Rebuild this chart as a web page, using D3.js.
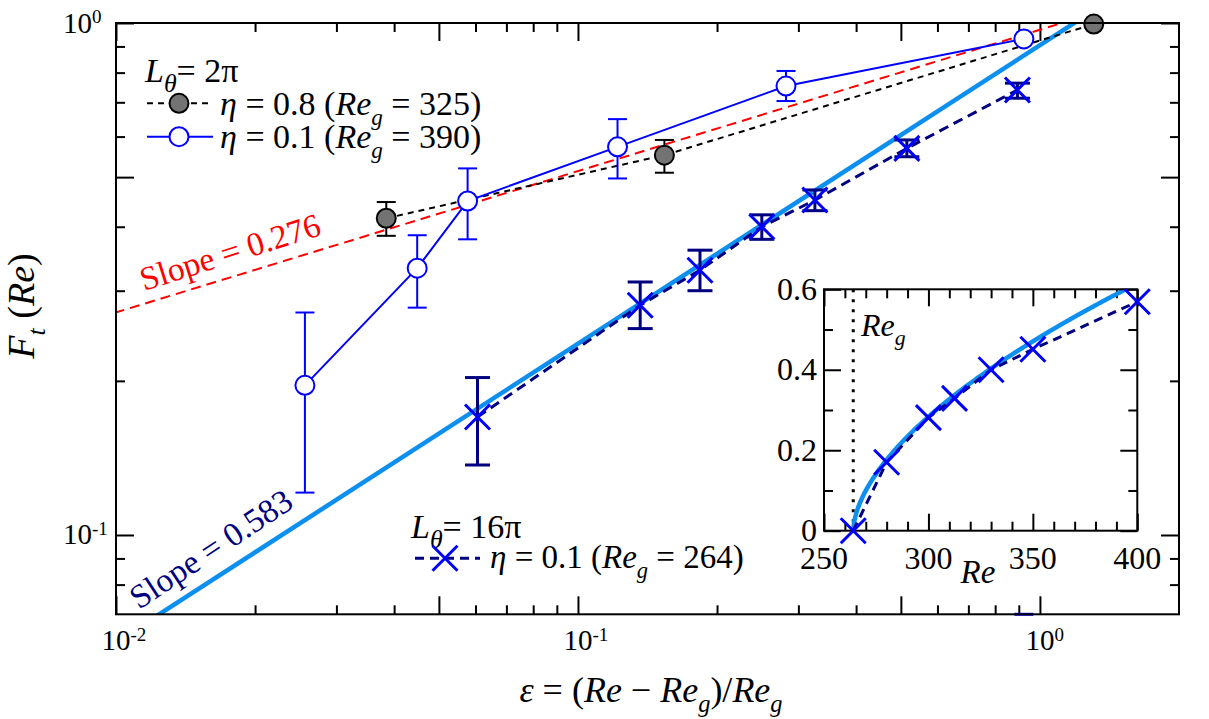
<!DOCTYPE html>
<html><head><meta charset="utf-8">
<script src="https://cdn.jsdelivr.net/npm/d3@7"></script>
<style>
body{margin:0;background:#fff}
svg{display:block}
</style>
</head><body>
<svg id="c" width="1209" height="719" font-family="'Liberation Serif', Tinos, 'Times New Roman', 'DejaVu Serif', serif"></svg>
<script>
// ---------------- data ----------------
// L_theta = 2pi, eta = 0.8
const reg08 = 325;
const re08  = [337.5, 375, 750];
const f08   = [0.4155, 0.552, 0.995];
const f08Lo = [0.384, 0.510, null];
const f08Hi = [0.447, 0.591, null];
// L_theta = 2pi, eta = 0.1
const reg01 = 390;
const re01  = [400, 407.5, 412.5, 437.5, 500, 750];
const f01   = [0.196, 0.332, 0.449, 0.573, 0.753, 0.931];
const f01Lo = [0.121, 0.278, 0.378, 0.497, 0.704, 0.05];
const f01Hi = [0.272, 0.385, 0.520, 0.649, 0.806, null];
// L_theta = 16pi, eta = 0.1
const reg16 = 264;
const re16  = [264, 280, 300, 312.5, 330, 350, 400, 500];
const f16   = [0, 0.170, 0.281, 0.329, 0.400, 0.451, 0.569, 0.740];
const f16Lo = [null, 0.137, 0.253, 0.300, 0.378, 0.430, 0.548, 0.713];
const f16Hi = [null, 0.203, 0.312, 0.360, 0.422, 0.472, 0.591, 0.763];
// power-law fits
const fitSteep = {slope: 0.583, pref: 0.905};
const fitShallow = {slope: 0.276, pref: 0.970};
// ticks
const xMajor = [0.01, 0.05, 0.1, 0.5, 1];
const xMinor = [0.02,0.03,0.04,0.06,0.07,0.08,0.09,0.2,0.3,0.4,0.6,0.7,0.8,0.9];
const xTickLabels = [[0.01,"-2"],[0.1,"-1"],[1,"0"]];
const yMajor = [0.1, 0.5, 1];
const yMinor = [0.08,0.09,0.2,0.3,0.4,0.6,0.7,0.8,0.9];
const yTickLabels = [[0.1,"-1"],[1,"0"]];
const inXMajor = [250,300,350,400];
const inXMinor = [260,270,280,290,310,320,330,340,360,370,380,390];
const inYMajor = [0,0.2,0.4,0.6];
const inYMinor = [0.1,0.3,0.5];
const inYLabels = ["0","0.2","0.4","0.6"];

// ---------------- setup ----------------
const svg = d3.select("#c");
const L = 116, R = 1179, T = 23, B = 614.3;
const x = d3.scaleLog().domain([0.01, 2]).range([L, R]);
const y = d3.scaleLog().domain([0.07, 1]).range([B, T]);
const eps = (re, rg) => (re - rg) / rg;

const BLUE = "#0000ff", NAVY = "#000080", LBLUE = "#0d8ff0", RED = "#ff0000", GRAY = "#737373";

function rich(sel, parts, fs, subRatio) {
  const sr = subRatio || 0.68;
  let shift = 0;
  parts.forEach(p => {
    const ts = sel.append("tspan").text(p.t);
    let target = 0, size = fs;
    if (p.sub) { target = fs * 0.28; size = fs * sr; }
    if (p.sup) { target = -fs * 0.42; size = fs * 0.65; }
    ts.attr("dy", target - shift).attr("font-size", size);
    shift = target;
    if (p.i) ts.attr("font-style", "italic");
  });
  return sel;
}

svg.append("defs").append("clipPath").attr("id","clipMain")
  .append("rect").attr("x",L).attr("y",T).attr("width",R-L).attr("height",B-T);

// ---------------- main axes (inward ticks) ----------------
function styleAxis(g){ g.select(".domain").remove(); g.selectAll("line").attr("stroke","#000").attr("stroke-width",2); g.selectAll("text").remove(); }
[[d3.axisBottom, B],[d3.axisTop, T]].forEach(([f, ty]) => {
  svg.append("g").attr("transform",`translate(0,${ty})`).call(f(x).tickValues(xMajor).tickSize(-18).tickFormat("")).call(styleAxis);
  svg.append("g").attr("transform",`translate(0,${ty})`).call(f(x).tickValues(xMinor).tickSize(-9).tickFormat("")).call(styleAxis);
});
[[d3.axisLeft, L],[d3.axisRight, R]].forEach(([f, tx]) => {
  svg.append("g").attr("transform",`translate(${tx},0)`).call(f(y).tickValues(yMajor).tickSize(-18).tickFormat("")).call(styleAxis);
  svg.append("g").attr("transform",`translate(${tx},0)`).call(f(y).tickValues(yMinor).tickSize(-9).tickFormat("")).call(styleAxis);
});

// tick labels
xTickLabels.forEach(([v, e]) => {
  const t = svg.append("text").attr("x", x(v)).attr("y", 650).attr("text-anchor","middle").attr("font-size",29).text("10");
  const w = t.node().getComputedTextLength();
  svg.append("text").attr("x", x(v) + w/2).attr("y", 641).attr("font-size",19).text(e);
});
yTickLabels.forEach(([v, e]) => {
  svg.append("text").attr("x", 92).attr("y", y(v) + 9.5).attr("text-anchor","end").attr("font-size",29).text("10");
  svg.append("text").attr("x", 92).attr("y", y(v)).attr("font-size",19).text(e);
});

// axis titles
rich(svg.append("text").attr("x", 651).attr("y", 702).attr("text-anchor","middle"),
  [{t:"\u03B5",i:true},{t:" = ("},{t:"Re",i:true},{t:" \u2212 "},{t:"Re",i:true},{t:"g",i:true,sub:true},{t:")/"},{t:"Re",i:true},{t:"g",i:true,sub:true}], 36);
rich(svg.append("text").attr("transform","translate(34,306) rotate(-90)").attr("text-anchor","middle"),
  [{t:"F",i:true},{t:"t",i:true,sub:true},{t:" ("},{t:"Re",i:true},{t:")"}], 38);

// ---------------- fit lines ----------------
const plot = svg.append("g").attr("clip-path","url(#clipMain)");
const lineLog = d3.line().x(d => x(d[0])).y(d => y(d[1]));
const fitPts = f => [0.005, 3].map(e => [e, f.pref * Math.pow(e, f.slope)]);
plot.append("path").attr("d", lineLog(fitPts(fitShallow))).attr("fill","none").attr("stroke",RED).attr("stroke-width",2).attr("stroke-dasharray","10,6");
plot.append("path").attr("d", lineLog(fitPts(fitSteep))).attr("fill","none").attr("stroke",LBLUE).attr("stroke-width",4.5);

// ---------------- series ----------------
const s08 = re08.map((r,i) => ({e: eps(r,reg08), f: f08[i], lo: f08Lo[i], hi: f08Hi[i]}));
const s01 = re01.map((r,i) => ({e: eps(r,reg01), f: f01[i], lo: f01Lo[i], hi: f01Hi[i]}));
const s16 = re16.map((r,i) => ({e: eps(r,reg16), f: f16[i], lo: f16Lo[i], hi: f16Hi[i]})).filter(d => d.f > 0);
const ln = d3.line().x(d => x(d.e)).y(d => y(d.f));

plot.append("path").attr("d", ln(s08)).attr("fill","none").attr("stroke","#000").attr("stroke-width",2).attr("stroke-dasharray","6,5");
plot.append("path").attr("d", ln(s01)).attr("fill","none").attr("stroke",BLUE).attr("stroke-width",2);
plot.append("path").attr("d", ln(s16)).attr("fill","none").attr("stroke",NAVY).attr("stroke-width",3).attr("stroke-dasharray","10,6");

function errBars(g, data, xs, ys, color, sw, cap, ymin) {
  data.forEach(d => {
    if (d.lo == null && d.hi == null) return;
    const cx = xs(d.e);
    if (d.lo != null && d.lo < ymin) {
      g.append("line").attr("x1",cx-cap/2).attr("x2",cx+cap/2).attr("y1",ys(ymin)).attr("y2",ys(ymin)).attr("stroke",color).attr("stroke-width",sw+1);
      return;
    }
    const y1 = ys(d.hi), y2 = ys(d.lo);
    g.append("line").attr("x1",cx).attr("x2",cx).attr("y1",y1).attr("y2",y2).attr("stroke",color).attr("stroke-width",sw);
    [y1,y2].forEach(yy => g.append("line").attr("x1",cx-cap/2).attr("x2",cx+cap/2).attr("y1",yy).attr("y2",yy).attr("stroke",color).attr("stroke-width",sw));
  });
}
const marks = svg.append("g");
errBars(marks, s08, x, y, "#000", 2, 19, 0.07);
errBars(marks, s01, x, y, BLUE, 2, 19, 0.07);
errBars(marks, s16, x, y, NAVY, 3, 25, 0.07);

function cross(g, cx, cy, h) {
  g.append("path").attr("d",`M${cx-h},${cy-h}L${cx+h},${cy+h}M${cx-h},${cy+h}L${cx+h},${cy-h}`)
    .attr("stroke",BLUE).attr("stroke-width",3).attr("fill","none");
}
s08.forEach(d => marks.append("circle").attr("cx",x(d.e)).attr("cy",y(d.f)).attr("r",9.5).attr("fill",GRAY).attr("stroke","#000").attr("stroke-width",2));
s01.forEach(d => marks.append("circle").attr("cx",x(d.e)).attr("cy",y(d.f)).attr("r",9.5).attr("fill","#fff").attr("stroke",BLUE).attr("stroke-width",2));
s16.forEach(d => cross(marks, x(d.e), y(d.f), 12.5));

// frame
svg.append("rect").attr("x",L).attr("y",T).attr("width",R-L).attr("height",B-T).attr("fill","none").attr("stroke","#000").attr("stroke-width",2);

// ---------------- slope labels ----------------
svg.append("text").attr("transform","translate(144,291) rotate(-17.5)").attr("font-size",33.5).attr("fill",RED).text("Slope = 0.276");
svg.append("text").attr("transform","translate(139,610) rotate(-33.5)").attr("font-size",33.5).attr("fill",NAVY).text("Slope = 0.583");

// ---------------- legends ----------------
const lg = svg.append("g");
rich(lg.append("text").attr("x",145).attr("y",82), [{t:"L",i:true},{t:"\u03B8",i:true,sub:true},{t:"= 2\u03C0"}], 34, 0.76);
lg.append("line").attr("x1",147).attr("x2",213).attr("y1",103.3).attr("y2",103.3).attr("stroke","#000").attr("stroke-width",2).attr("stroke-dasharray","6,5");
lg.append("circle").attr("cx",179).attr("cy",103.3).attr("r",9.5).attr("fill",GRAY).attr("stroke","#000").attr("stroke-width",2);
rich(lg.append("text").attr("x",220).attr("y",115), [{t:"\u03B7",i:true},{t:" = 0.8 ("},{t:"Re",i:true},{t:"g",i:true,sub:true},{t:" = 325)"}], 34);
lg.append("line").attr("x1",147).attr("x2",213).attr("y1",136.7).attr("y2",136.7).attr("stroke",BLUE).attr("stroke-width",2);
lg.append("circle").attr("cx",179).attr("cy",136.7).attr("r",9.5).attr("fill","#fff").attr("stroke",BLUE).attr("stroke-width",2);
rich(lg.append("text").attr("x",220).attr("y",148), [{t:"\u03B7",i:true},{t:" = 0.1 ("},{t:"Re",i:true},{t:"g",i:true,sub:true},{t:" = 390)"}], 34);

rich(lg.append("text").attr("x",411).attr("y",538), [{t:"L",i:true},{t:"\u03B8",i:true,sub:true},{t:"= 16\u03C0"}], 34, 0.76);
lg.append("line").attr("x1",415).attr("x2",480).attr("y1",558.3).attr("y2",558.3).attr("stroke",NAVY).attr("stroke-width",3).attr("stroke-dasharray","9,6");
cross(lg, 445, 558.3, 12.5);
rich(lg.append("text").attr("x",490).attr("y",568.3), [{t:"\u03B7",i:true},{t:" = 0.1 ("},{t:"Re",i:true},{t:"g",i:true,sub:true},{t:" = 264)"}], 33);

// ---------------- inset ----------------
const iL = 824, iR = 1137.3, iT = 289.3, iB = 530.7;
const xi = d3.scaleLinear().domain([250,400]).range([iL,iR]);
const yi = d3.scaleLinear().domain([0,0.6]).range([iB,iT]);
const ins = svg.append("g");
ins.append("rect").attr("x",iL).attr("y",iT).attr("width",iR-iL).attr("height",iB-iT).attr("fill","#fff");
svg.select("defs").append("clipPath").attr("id","clipIn").append("rect").attr("x",iL).attr("y",iT).attr("width",iR-iL).attr("height",iB-iT);
[[d3.axisBottom, iB],[d3.axisTop, iT]].forEach(([f, ty]) => {
  ins.append("g").attr("transform",`translate(0,${ty})`).call(f(xi).tickValues(inXMajor).tickSize(-17).tickFormat("")).call(styleAxis);
  ins.append("g").attr("transform",`translate(0,${ty})`).call(f(xi).tickValues(inXMinor).tickSize(-9).tickFormat("")).call(styleAxis);
});
[[d3.axisLeft, iL],[d3.axisRight, iR]].forEach(([f, tx]) => {
  ins.append("g").attr("transform",`translate(${tx},0)`).call(f(yi).tickValues(inYMajor).tickSize(-17).tickFormat("")).call(styleAxis);
  ins.append("g").attr("transform",`translate(${tx},0)`).call(f(yi).tickValues(inYMinor).tickSize(-9).tickFormat("")).call(styleAxis);
});
inYMajor.forEach((v,i) => ins.append("text").attr("x",817).attr("y",yi(v)+10.5).attr("text-anchor","end").attr("font-size",32).text(inYLabels[i]));
inXMajor.forEach(v => ins.append("text").attr("x",xi(v)).attr("y",569).attr("text-anchor","middle").attr("font-size",32).text(v));
ins.append("text").attr("x",978).attr("y",583).attr("text-anchor","middle").attr("font-size",33).attr("font-style","italic").text("Re");

const inPlot = ins.append("g").attr("clip-path","url(#clipIn)");
inPlot.append("line").attr("x1",xi(reg16)).attr("x2",xi(reg16)).attr("y1",iT).attr("y2",iB).attr("stroke","#000").attr("stroke-width",3).attr("stroke-dasharray","3,7");
const fitCurve = d3.range(reg16, 400.5, 0.5).map(r => [r, fitSteep.pref * Math.pow(eps(r,reg16), fitSteep.slope)]).filter(d => d[1] <= 0.6);
inPlot.append("path").attr("d", d3.line().x(d => xi(d[0])).y(d => yi(d[1]))(fitCurve)).attr("fill","none").attr("stroke",LBLUE).attr("stroke-width",4.5);
const in16 = re16.map((r,i) => ({r, f: f16[i]})).filter(d => d.r <= 400);
inPlot.append("path").attr("d", d3.line().x(d => xi(d.r)).y(d => yi(d.f))(in16)).attr("fill","none").attr("stroke",NAVY).attr("stroke-width",3).attr("stroke-dasharray","9,6");
rich(ins.append("text").attr("x",861).attr("y",336), [{t:"Re",i:true},{t:"g",i:true,sub:true}], 32);
ins.append("rect").attr("x",iL).attr("y",iT).attr("width",iR-iL).attr("height",iB-iT).attr("fill","none").attr("stroke","#000").attr("stroke-width",2);
in16.forEach(d => cross(ins, xi(d.r), yi(d.f), 12.5));
</script>
</body></html>
